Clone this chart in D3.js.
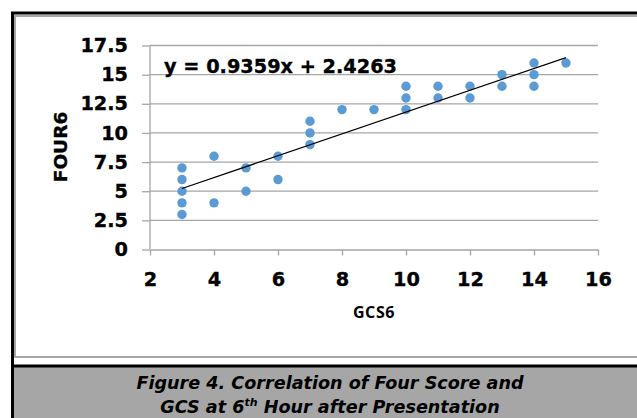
<!DOCTYPE html>
<html><head><meta charset="utf-8">
<script src="https://cdn.jsdelivr.net/npm/d3@7"></script>
<style>html,body{margin:0;padding:0;background:#fff;overflow:hidden}</style>
</head><body>
<svg id="c" width="637" height="418"></svg>
<script>
const gcs6  = [3,3,3,3,3, 4,4, 5,5, 6,6, 7,7,7, 8, 9, 10,10,10, 11,11, 12,12, 13,13, 14,14,14, 15];
const four6 = [7,6,5,4,3, 8,4, 7,5, 8,6, 11,10,9, 12, 12, 14,13,12, 14,13, 14,13, 15,14, 16,15,14, 16];
const xTicks = [2,4,6,8,10,12,14,16];
const yTicks = [0,2.5,5,7.5,10,12.5,15,17.5];
const slope = 0.9359, intercept = 2.4263;
const trendRange = [3,15];
const xTitle = "GCS6", yTitle = "FOUR6";
const equation = "y = 0.9359x + 2.4263";

const svg = d3.select("#c");
const F = "'DejaVu Sans', Verdana, sans-serif";

// frames
svg.append("rect").attr("x",15).attr("y",16).attr("width",640).attr("height",341)
  .attr("fill","none").attr("stroke","#a6a6a6").attr("stroke-width",2);
svg.append("rect").attr("x",12.5).attr("y",366).attr("width",640).attr("height",60)
  .attr("fill","#a6a6a6").attr("stroke","#000").attr("stroke-width",3);
svg.append("rect").attr("x",12.5).attr("y",13).attr("width",640).attr("height",420)
  .attr("fill","none").attr("stroke","#000").attr("stroke-width",3);

const x = d3.scaleLinear().domain([2,16]).range([150,598]);
const y = d3.scaleLinear().domain([0,17.5]).range([249.5,45.5]);

// grid
svg.append("g").selectAll("line").data(yTicks.filter(d=>d>0)).join("line")
  .attr("x1",x(2)).attr("x2",x(16)).attr("y1",d=>y(d)).attr("y2",d=>y(d))
  .attr("stroke","#a6a6a6").attr("stroke-width",1.3);

const yAxis = svg.append("g").attr("transform",`translate(${x(2)},0)`)
  .call(d3.axisLeft(y).tickValues(yTicks).tickSize(8).tickPadding(14).tickFormat(d=>d));
const xAxis = svg.append("g").attr("transform",`translate(0,${y(0)})`)
  .call(d3.axisBottom(x).tickValues(xTicks).tickSize(6).tickPadding(13).tickSizeOuter(0));
[yAxis,xAxis].forEach(g=>{
  g.select(".domain").attr("stroke","#a6a6a6").attr("stroke-width",1.3);
  g.selectAll(".tick line").attr("stroke","#a6a6a6").attr("stroke-width",1.3);
  g.selectAll("text").attr("font-family",F).attr("font-weight","bold").attr("font-size","19.3px")
    .attr("fill","#000").attr("stroke","#000").attr("stroke-width",0.35);
});
yAxis.select(".domain").attr("d",`M0,${y(17.5)}V${y(0)}`);
xAxis.selectAll("text").attr("dy","0.9em");

// points
svg.append("g").selectAll("circle").data(gcs6.map((g,i)=>[g,four6[i]])).join("circle")
  .attr("cx",d=>x(d[0])).attr("cy",d=>y(d[1])).attr("r",4.7).attr("fill","#5b9bd5");

// trendline
svg.append("line").attr("x1",x(trendRange[0])).attr("y1",y(slope*trendRange[0]+intercept))
  .attr("x2",x(trendRange[1])).attr("y2",y(slope*trendRange[1]+intercept))
  .attr("stroke","#000").attr("stroke-width",1.2);

svg.append("text").attr("x",164).attr("y",72.5).attr("font-family",F).attr("font-weight","bold")
  .attr("font-size","19.3px").attr("stroke","#000").attr("stroke-width",0.35).text(equation);

svg.append("text").attr("x",374).attr("y",318).attr("text-anchor","middle")
  .attr("font-family","'Open Sans', sans-serif").attr("font-weight","700").attr("font-size","16px")
  .attr("letter-spacing","0.6px").text(xTitle);
svg.append("text").attr("transform","translate(67,147) rotate(-90)").attr("text-anchor","middle")
  .attr("font-family",F).attr("font-weight","bold").attr("font-size","18.5px")
  .attr("stroke","#000").attr("stroke-width",0.35).text(yTitle);

// caption
const cap = svg.append("g").attr("font-family",F).attr("font-weight","bold").attr("font-style","italic")
  .attr("font-size","17.6px").attr("text-anchor","middle").attr("fill","#000");
cap.append("text").attr("x",330).attr("y",389).text("Figure 4. Correlation of Four Score and");
const l2 = cap.append("text").attr("x",330).attr("y",413);
l2.append("tspan").text("GCS at 6");
l2.append("tspan").attr("dy",-7).attr("font-size","11px").text("th");
l2.append("tspan").attr("dy",7).text(" Hour after Presentation");
</script>
</body></html>
